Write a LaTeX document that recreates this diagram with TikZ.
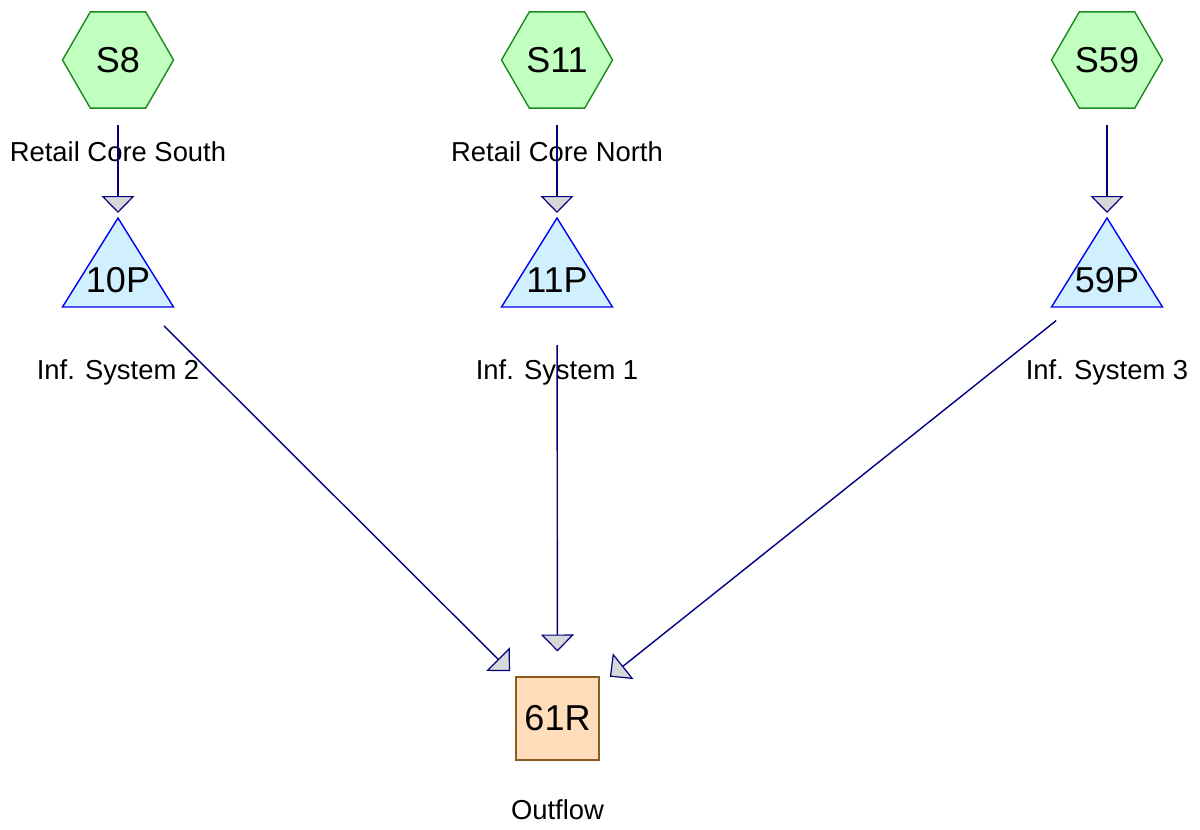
\documentclass[tikz,border=0pt]{standalone}
\usepackage{fontspec}
\setmainfont{Liberation Sans}
\usetikzlibrary{arrows.meta, shapes.geometric}
\definecolor{storefill}{HTML}{C0FFC0}
\definecolor{storeline}{HTML}{1A8A1A}
\definecolor{pumpfill}{HTML}{D0F0FF}
\definecolor{pumpline}{HTML}{0000F0}
\definecolor{outfill}{HTML}{FFDDBB}
\definecolor{outline}{HTML}{8B5A1E}
\definecolor{linkline}{HTML}{000080}
\definecolor{tipfill}{HTML}{D8D8D8}
\tikzset{
		store/.style={regular polygon, regular polygon sides=6, minimum size=55.5pt, inner sep=0pt,
			draw=storeline, fill=storefill, line width=0.7pt, font=\fontsize{18}{18}\selectfont},
		pumpbody/.style={draw=pumpline, fill=pumpfill, line width=0.7pt, line join=miter},
		pumptext/.style={inner sep=0pt, font=\fontsize{18}{18}\selectfont},
		outlet/.style={rectangle, minimum size=41.5pt, inner sep=0pt,
			draw=outline, fill=outfill, line width=0.7pt, font=\fontsize{18}{18}\selectfont},
		tag/.style={inner sep=0pt, font=\fontsize{13.7}{14}\selectfont},
		flow/.style={draw=linkline, line width=0.7pt, shorten <=32.5pt, shorten >=33.5pt,
			-{Triangle[width=16.5pt, length=8.5pt, fill=tipfill, line width=0.6pt]}}
	}
\begin{document}
\begin{tikzpicture}[x=0.5pt, y=-0.5pt]
				\useasboundingbox (0,0) rectangle (1200,830);

				% pump triangles
				\foreach \x in {118,557,1107}
					\draw[pumpbody] (\x-55.5,307) -- (\x,218) -- (\x+55.5,307) -- cycle;

				\node[store]    (s8)  at (118,60)  {S8};
				\node[store]    (s11) at (557,60)  {S11};
				\node[store]    (s59) at (1107,60) {S59};

				\node[pumptext] (p10) at (118,280)  {10P};
				\node[pumptext] (p11) at (557,280)  {11P};
				\node[pumptext] (p59) at (1107,280) {59P};

				\node[outlet]   (r61) at (557.5,718.5) {61R};

				\node[tag] (t8)  at (118,152)  {Retail Core South};
				\node[tag] (t11) at (557,152)  {Retail Core North};
				\node[tag] (t10) at (118,372)  {Inf. System 2};
				\node[tag] (t1)  at (557,372)  {Inf. System 1};
				\node[tag] (t3)  at (1107,372) {Inf. System 3};
				\node[tag] (t61) at (557.5,810) {Outflow};

				\path (s8.center)  edge[flow] (p10.center);
				\path (s11.center) edge[flow] (p11.center);
				\path (s59.center) edge[flow] (p59.center);
				\path (p10.center) edge[flow] (r61.center);
				\path (p11.center) edge[flow] (r61.center);
				\path (p59.center) edge[flow] (r61.center);
			\end{tikzpicture}
\end{document}
